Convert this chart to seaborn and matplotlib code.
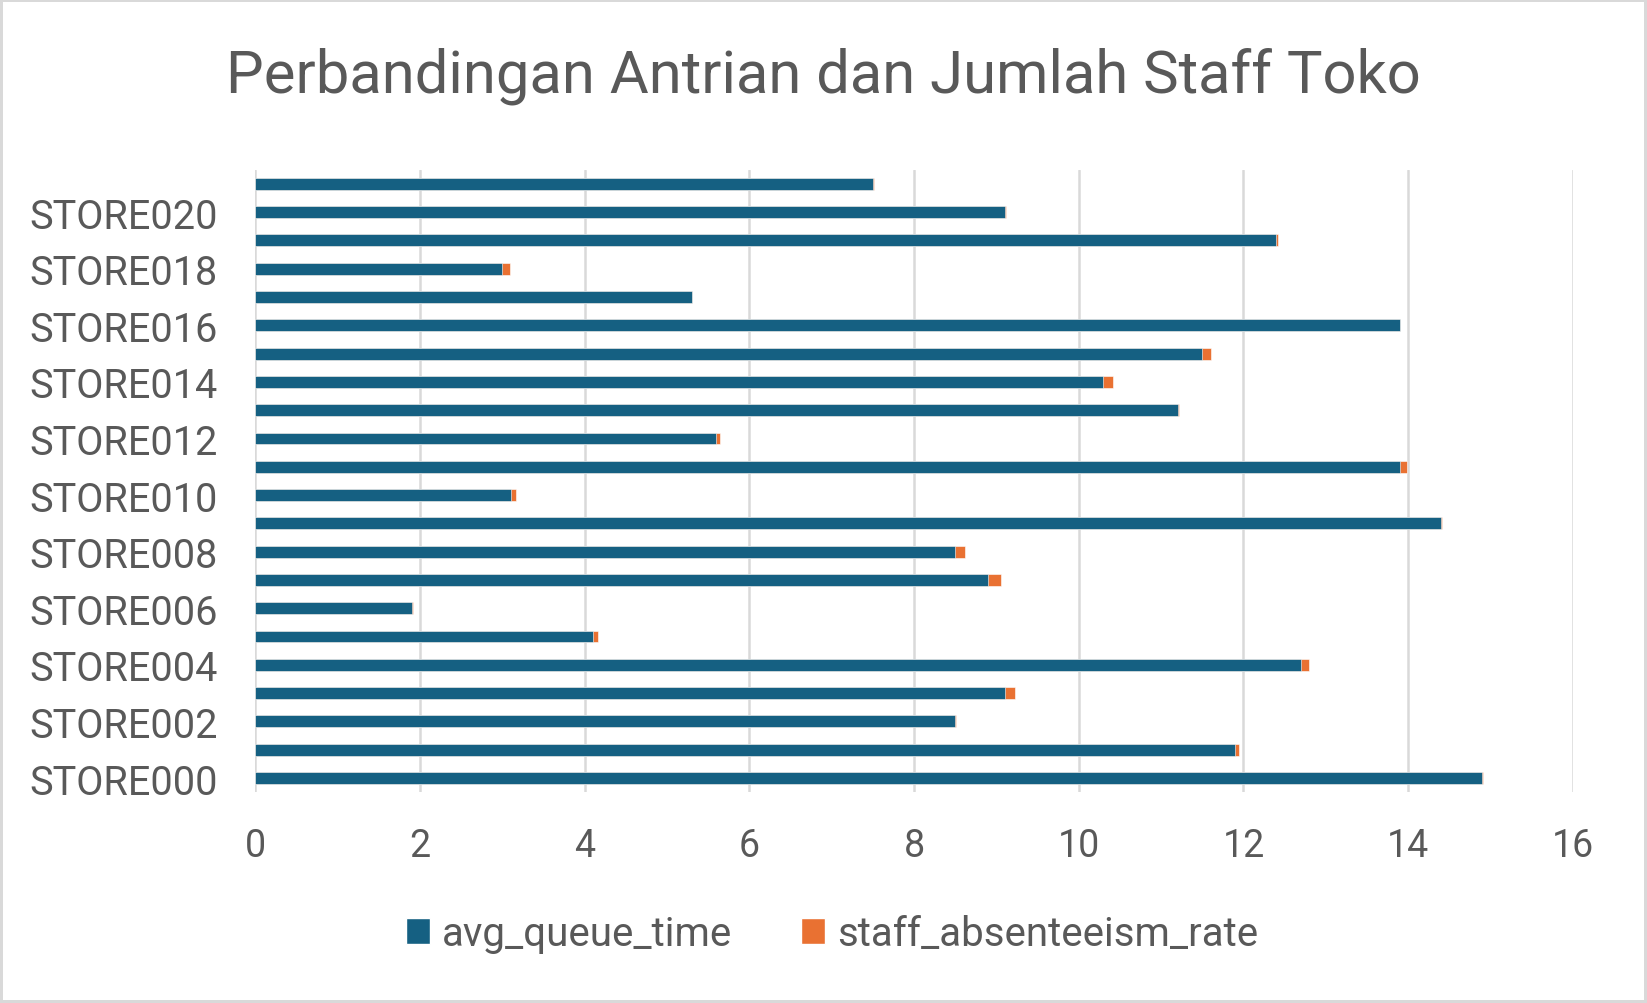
import pandas as pd
import matplotlib.pyplot as plt
import seaborn as sns
from matplotlib.patches import Patch

# Data
stores = [f"STORE{i:03d}" for i in range(22)]
avgQueueTime = [14.9, 11.9, 8.5, 9.1, 12.7, 4.1, 1.9, 8.9, 8.5, 14.4, 3.1,
                13.9, 5.6, 11.2, 10.3, 11.5, 13.9, 5.3, 3.0, 12.4, 9.1, 7.5]
staffAbsenteeismRate = [0.01, 0.04, 0.01, 0.12, 0.10, 0.06, 0.02, 0.15, 0.12, 0.005, 0.07,
                        0.08, 0.04, 0.02, 0.12, 0.11, 0.005, 0.005, 0.09, 0.02, 0.02, 0.01]
xTicks = [0, 2, 4, 6, 8, 10, 12, 14, 16]

blueColor = '#156082'
orangeColor = '#E97132'
textColor = '#595959'
gridColor = '#D9D9D9'

df = pd.DataFrame({
    'store': stores,
    'avg_queue_time': avgQueueTime,
    'staff_absenteeism_rate': staffAbsenteeismRate,
})
df['total'] = df['avg_queue_time'] + df['staff_absenteeism_rate']

sns.set_style("white")
plt.rcParams['font.family'] = ['Roboto', 'DejaVu Sans']

fig = plt.figure(figsize=(16.47, 10.04), dpi=100)
fig.patch.set_edgecolor(gridColor)
fig.patch.set_linewidth(3)
ax = fig.add_axes([0.155, 0.210, 0.800, 0.620])

# STORE000 at the bottom: seaborn puts the first category on top
storeOrder = stores[::-1]

# stacked bars: total (orange) underneath, queue time (blue) on top
sns.barplot(data=df, y='store', x='total', order=storeOrder, color=orangeColor,
            width=0.42, saturation=1, ax=ax, edgecolor='white', linewidth=0.4)
sns.barplot(data=df, y='store', x='avg_queue_time', order=storeOrder, color=blueColor,
            width=0.42, saturation=1, ax=ax, edgecolor='white', linewidth=0.4)

ax.set_xlim(0, 16)
ax.set_ylim(len(stores) - 0.5, -0.5)
ax.set_xticks(xTicks)
ax.set_xticklabels([str(t) for t in xTicks])

# Excel skips every other category label
evenStores = stores[::2]
ax.set_yticks([storeOrder.index(s) for s in evenStores])
ax.set_yticklabels(evenStores)

ax.set_xlabel('')
ax.set_ylabel('')
ax.tick_params(axis='both', length=0, labelcolor=textColor)
ax.tick_params(axis='x', pad=25, labelsize=27)
ax.tick_params(axis='y', pad=27, labelsize=28.5)

ax.xaxis.grid(True, color=gridColor, linewidth=1.8)
ax.yaxis.grid(False)
ax.set_axisbelow(True)
for spine in ax.spines.values():
    spine.set_visible(False)

fig.text(0.5, 0.924, 'Perbandingan Antrian dan Jumlah Staff Toko',
         ha='center', va='center', fontsize=43, color=textColor)

legendHandles = [Patch(facecolor=blueColor, label='avg_queue_time'),
                 Patch(facecolor=orangeColor, label='staff_absenteeism_rate')]
fig.legend(handles=legendHandles, loc='center', bbox_to_anchor=(0.505, 0.069),
           ncol=2, frameon=False, fontsize=29, labelcolor=textColor,
           handlelength=0.6, handleheight=0.6, handletextpad=0.3, columnspacing=1.7)

fig.savefig('out.png', dpi=100, facecolor='white', edgecolor=gridColor)
plt.close(fig)
